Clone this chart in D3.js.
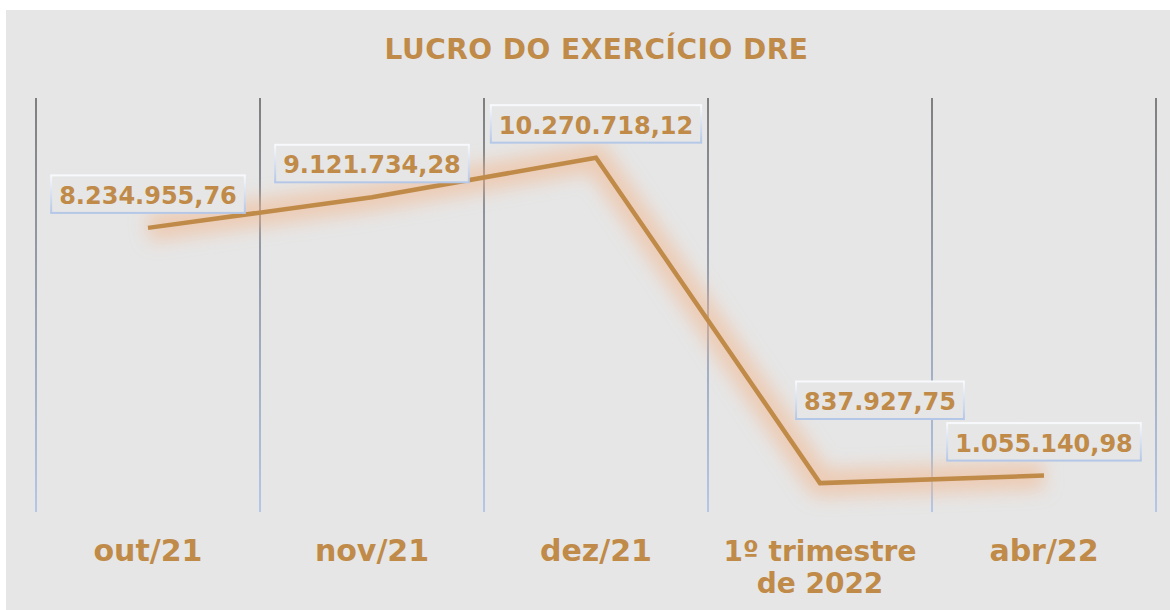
<!DOCTYPE html>
<html>
<head>
<meta charset="utf-8">
<script src="https://cdn.jsdelivr.net/npm/d3@7"></script>
<style>
  html, body { margin: 0; padding: 0; background: #ffffff; }
  svg { display: block; }
</style>
</head>
<body>
<script>
const title = "LUCRO DO EXERCÍCIO DRE";
const categories = ["out/21", "nov/21", "dez/21", "1º trimestre de 2022", "abr/22"];
const categoryLines = [["out/21"], ["nov/21"], ["dez/21"], ["1º trimestre", "de 2022"], ["abr/22"]];
const values = [8234955.76, 9121734.28, 10270718.12, 837927.75, 1055140.98];
const valueLabels = ["8.234.955,76", "9.121.734,28", "10.270.718,12", "837.927,75", "1.055.140,98"];
const yDomain = [0, 12000000];

const W = 1170, H = 610;
const accent = "#c08a48";
const font = "'DejaVu Sans', Verdana, sans-serif";

const svg = d3.select("body").append("svg").attr("width", W).attr("height", H);
const defs = svg.append("defs");

const gridGrad = defs.append("linearGradient").attr("id", "gridGrad")
  .attr("gradientUnits", "userSpaceOnUse").attr("x1", 0).attr("x2", 0).attr("y1", 98).attr("y2", 512);
gridGrad.append("stop").attr("offset", "0%").attr("stop-color", "#7f7f7f");
gridGrad.append("stop").attr("offset", "100%").attr("stop-color", "#b4c7e7");

const boxGrad = defs.append("linearGradient").attr("id", "boxGrad")
  .attr("x1", 0).attr("x2", 0).attr("y1", 0).attr("y2", 1);
boxGrad.append("stop").attr("offset", "0%").attr("stop-color", "#f8f9fc");
boxGrad.append("stop").attr("offset", "100%").attr("stop-color", "#b4c7e7");

const glow = defs.append("filter").attr("id", "glow")
  .attr("x", "-20%").attr("y", "-30%").attr("width", "140%").attr("height", "160%");
glow.append("feGaussianBlur").attr("stdDeviation", 9);

// background panel
svg.append("rect").attr("x", 6).attr("y", 10).attr("width", W - 6).attr("height", H - 10)
  .attr("fill", "#e6e6e6");

const x = d3.scaleBand().domain(categories).range([36, 1156]).padding(0);
const y = d3.scaleLinear().domain(yDomain).range([512, 98]);
const cx = d => x(d) + x.bandwidth() / 2;

// vertical gridlines at category boundaries
const bounds = categories.map(c => x(c)).concat([x.range()[1]]);
svg.append("g").selectAll("line").data(bounds).join("line")
  .attr("x1", d => d).attr("x2", d => d)
  .attr("y1", y(yDomain[1])).attr("y2", y(0))
  .attr("stroke", "url(#gridGrad)").attr("stroke-width", 2);

// title
svg.append("text").attr("x", 596.5).attr("y", 59)
  .attr("text-anchor", "middle").attr("font-family", font).attr("font-weight", "bold")
  .attr("font-size", 28).attr("letter-spacing", 0.5).attr("fill", accent).text(title);

// line with glow
const pts = categories.map((c, i) => [cx(c), y(values[i])]);
const line = d3.line();
svg.append("path").attr("d", line(pts)).attr("fill", "none")
  .attr("stroke", "#f4b183").attr("stroke-opacity", 0.5).attr("stroke-width", 28)
  .attr("stroke-linejoin", "round").attr("filter", "url(#glow)");
svg.append("path").attr("d", line(pts)).attr("fill", "none")
  .attr("stroke", accent).attr("stroke-width", 4.5)
  .attr("stroke-linejoin", "miter").attr("stroke-linecap", "butt");

// data labels
const labelFont = 24;
const labelG = svg.append("g");
categories.forEach((c, i) => {
  let lx = cx(c), by = y(values[i]) - 15;
  if (i === 3) { lx += 60; by = 419; }
  const g = labelG.append("g");
  const t = g.append("text").attr("x", lx).attr("y", by - 9)
    .attr("text-anchor", "middle").attr("font-family", font).attr("font-weight", "bold")
    .attr("font-size", labelFont).attr("fill", accent).text(valueLabels[i]);
  const bb = t.node().getBBox();
  const padX = 8;
  g.insert("rect", "text")
    .attr("x", bb.x - padX).attr("y", by - 37.5)
    .attr("width", bb.width + padX * 2).attr("height", 37.5)
    .attr("fill", "#e6e6e6").attr("stroke", "url(#boxGrad)").attr("stroke-width", 2);
});

// category labels
const catG = svg.append("g");
categories.forEach((c, i) => {
  const t = catG.append("text").attr("x", cx(c)).attr("y", 561)
    .attr("text-anchor", "middle").attr("font-family", font).attr("font-weight", "bold")
    .attr("font-size", 30).attr("fill", accent);
  categoryLines[i].forEach((ln, j) => {
    t.append("tspan").attr("x", cx(c)).attr("dy", j === 0 ? 0 : 32)
      .attr("font-size", i === 3 ? 28 : 30).text(ln);
  });
});
</script>
</body>
</html>
